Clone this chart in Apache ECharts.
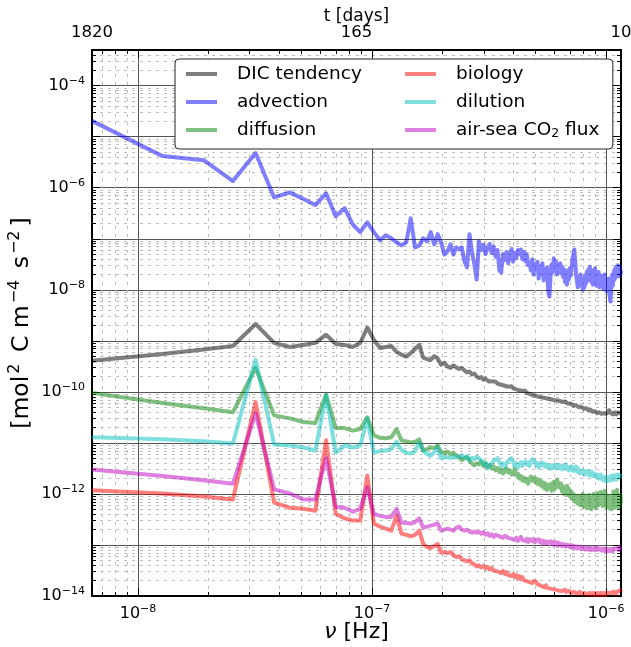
<!DOCTYPE html>
<html><head><meta charset="utf-8">
<script src="https://cdn.jsdelivr.net/npm/echarts@6/dist/echarts.min.js"></script>
<style>html,body{margin:0;padding:0;background:#fff}#c{width:631px;height:647px}</style>
</head><body><div id="c"></div>
<script>
// periodogram of a 1820-day record: harmonic k has frequency k / (1820 days)
const PERIOD_DAYS = 1820;
const SECONDS_PER_DAY = 86400;

const seriesNames = ['DIC tendency','advection','diffusion','biology','dilution','air-sea CO2 flux'];
const seriesColors = ['rgba(0,0,0,0.5)','rgba(0,0,255,0.5)','rgba(0,128,0,0.5)','rgba(255,0,0,0.5)','rgba(0,191,191,0.5)','rgba(191,0,191,0.5)'];

// log10 of spectral power, harmonics k = 1..182
const dicTendency = [
-9.39,-9.26,-9.17,-9.10,-8.67,-9.04,-9.12,-9.08,-9.04,-8.88,
-9.06,-9.08,-9.12,-9.04,-8.74,-8.98,-9.14,-9.12,-9.10,-9.22,
-9.27,-9.31,-9.24,-9.16,-9.08,-9.33,-9.36,-9.37,-9.30,-9.35,
-9.47,-9.43,-9.50,-9.53,-9.48,-9.52,-9.55,-9.53,-9.58,-9.62,
-9.60,-9.66,-9.64,-9.70,-9.73,-9.71,-9.76,-9.74,-9.78,-9.80,
-9.79,-9.82,-9.80,-9.84,-9.82,-9.86,-9.84,-9.88,-9.86,-9.90,
-9.92,-9.89,-9.93,-9.91,-9.95,-9.93,-9.97,-9.95,-9.98,-10.00,
-9.98,-10.02,-10.00,-10.04,-10.02,-10.06,-10.03,-10.07,-10.05,-10.09,
-10.07,-10.10,-10.08,-10.11,-10.09,-10.12,-10.10,-10.13,-10.11,-10.14,
-10.12,-10.15,-10.13,-10.16,-10.14,-10.17,-10.15,-10.17,-10.16,-10.18,
-10.17,-10.20,-10.18,-10.21,-10.19,-10.22,-10.20,-10.23,-10.21,-10.24,
-10.23,-10.26,-10.24,-10.27,-10.25,-10.28,-10.26,-10.29,-10.27,-10.30,
-10.28,-10.31,-10.29,-10.32,-10.30,-10.33,-10.31,-10.34,-10.32,-10.35,
-10.33,-10.36,-10.34,-10.37,-10.35,-10.38,-10.36,-10.39,-10.37,-10.40,
-10.38,-10.41,-10.39,-10.42,-10.40,-10.42,-10.40,-10.43,-10.41,-10.43,
-10.41,-10.44,-10.42,-10.44,-10.42,-10.45,-10.43,-10.45,-10.43,-10.44,
-10.40,-10.36,-10.34,-10.38,-10.42,-10.40,-10.43,-10.41,-10.44,-10.42,
-10.40,-10.43,-10.41,-10.44,-10.42,-10.40,-10.43,-10.41,-10.38,-10.42,
-10.40,-10.42];

const advection = [
-4.69,-5.38,-5.46,-5.87,-5.32,-6.19,-6.09,-6.22,-6.34,-6.11,
-6.56,-6.40,-6.72,-6.87,-6.68,-6.87,-7.03,-6.93,-6.99,-7.07,
-7.13,-7.07,-6.60,-7.17,-7.13,-6.99,-7.05,-6.87,-7.11,-6.91,
-7.07,-7.31,-7.25,-7.11,-7.31,-7.17,-7.21,-7.17,-7.44,-7.56,
-6.91,-7.25,-7.50,-7.80,-7.05,-7.22,-7.12,-7.30,-7.18,-7.10,
-7.28,-7.15,-7.35,-7.22,-7.62,-7.66,-7.30,-7.42,-7.26,-7.48,
-7.32,-7.20,-7.45,-7.28,-7.38,-7.22,-7.30,-7.21,-7.40,-7.26,
-7.44,-7.30,-7.52,-7.46,-7.62,-7.40,-7.70,-7.50,-7.58,-7.45,
-7.78,-7.55,-7.66,-7.48,-7.82,-7.60,-7.70,-7.56,-8.05,-8.13,
-7.75,-7.50,-7.66,-7.38,-7.60,-7.45,-7.70,-7.52,-7.62,-7.48,
-7.68,-7.55,-7.75,-7.60,-7.85,-7.70,-7.90,-7.62,-7.80,-7.58,
-7.72,-7.55,-7.40,-7.30,-7.21,-7.45,-7.70,-7.82,-7.95,-7.75,
-7.88,-7.70,-7.92,-7.78,-8.00,-7.80,-7.95,-7.72,-7.88,-7.65,
-7.82,-7.60,-7.78,-7.55,-7.70,-7.85,-7.62,-7.90,-7.68,-7.80,
-7.58,-7.75,-7.92,-7.70,-7.85,-7.65,-7.95,-7.78,-7.88,-7.72,
-7.90,-7.75,-7.98,-7.82,-7.70,-7.92,-7.80,-8.02,-7.85,-7.96,
-7.78,-8.05,-8.15,-8.23,-8.00,-7.85,-7.70,-7.92,-7.75,-7.62,
-7.80,-7.58,-7.72,-7.55,-7.68,-7.52,-7.74,-7.60,-7.66,-7.55,
-7.70,-7.62];

const diffusion = [
-10.02,-10.22,-10.32,-10.40,-9.53,-10.46,-10.52,-10.59,-10.61,-10.06,
-10.71,-10.71,-10.76,-10.73,-10.50,-10.85,-10.90,-10.91,-10.89,-10.73,
-10.95,-10.97,-10.99,-10.98,-10.93,-11.15,-11.12,-11.09,-11.10,-11.05,
-11.18,-11.20,-11.17,-11.22,-11.20,-11.24,-11.28,-11.34,-11.30,-11.28,
-11.35,-11.40,-11.44,-11.40,-11.42,-11.36,-11.45,-11.40,-11.47,-11.43,
-11.50,-11.46,-11.54,-11.49,-11.57,-11.52,-11.60,-11.55,-11.50,-11.58,
-11.54,-11.62,-11.57,-11.52,-11.64,-11.60,-11.70,-11.65,-11.74,-11.68,
-11.76,-11.70,-11.80,-11.72,-11.66,-11.74,-11.68,-11.76,-11.70,-11.80,
-11.72,-11.82,-11.75,-11.86,-11.78,-11.90,-11.80,-11.92,-11.84,-11.88,
-11.80,-11.94,-11.84,-11.76,-11.90,-11.82,-11.72,-11.86,-11.78,-11.88,
-11.80,-11.95,-11.85,-12.00,-11.88,-11.96,-11.84,-12.02,-11.90,-12.05,
-11.94,-12.08,-11.98,-12.12,-12.02,-12.15,-12.04,-12.18,-12.06,-12.20,
-12.05,-12.22,-12.08,-12.16,-12.00,-12.25,-12.10,-12.20,-12.04,-12.28,
-12.12,-12.22,-12.02,-12.26,-12.08,-12.30,-12.14,-12.24,-12.00,-12.20,
-12.06,-12.28,-12.10,-12.18,-11.98,-12.22,-12.04,-12.16,-11.96,-12.20,
-12.08,-12.24,-12.00,-12.18,-11.94,-12.14,-12.02,-12.26,-12.06,-12.20,
-12.10,-12.28,-12.04,-12.22,-12.12,-12.30,-12.08,-12.24,-11.95,-12.18,
-12.10,-12.26,-12.04,-12.20,-11.92,-12.16,-12.08,-12.28,-12.10,-12.22,
-12.02,-12.18];

const biology = [
-11.93,-11.99,-12.05,-12.11,-10.20,-12.17,-12.27,-12.29,-12.33,-10.95,
-12.39,-12.48,-12.52,-12.52,-11.64,-12.58,-12.64,-12.68,-12.72,-12.43,
-12.78,-12.80,-12.83,-12.80,-12.72,-12.98,-13.04,-13.06,-13.02,-12.98,
-13.15,-13.14,-13.16,-13.14,-13.20,-13.24,-13.22,-13.28,-13.30,-13.32,
-13.30,-13.36,-13.38,-13.42,-13.40,-13.44,-13.41,-13.46,-13.43,-13.48,
-13.45,-13.50,-13.47,-13.52,-13.49,-13.55,-13.51,-13.57,-13.53,-13.59,
-13.56,-13.61,-13.57,-13.63,-13.59,-13.65,-13.61,-13.67,-13.63,-13.69,
-13.66,-13.71,-13.68,-13.73,-13.70,-13.75,-13.71,-13.74,-13.72,-13.77,
-13.74,-13.79,-13.76,-13.81,-13.78,-13.83,-13.79,-13.84,-13.81,-13.85,
-13.82,-13.86,-13.83,-13.87,-13.84,-13.88,-13.85,-13.89,-13.86,-13.90,
-13.87,-13.90,-13.88,-13.91,-13.88,-13.92,-13.89,-13.92,-13.90,-13.93,
-13.90,-13.94,-13.91,-13.94,-13.92,-13.95,-13.92,-13.96,-13.93,-13.96,
-13.92,-13.95,-13.93,-13.96,-13.93,-13.97,-13.94,-13.97,-13.94,-13.97,
-13.94,-13.97,-13.94,-13.97,-13.95,-13.98,-13.94,-13.97,-13.95,-13.98,
-13.94,-13.97,-13.95,-13.98,-13.94,-13.97,-13.95,-13.98,-13.94,-13.97,
-13.95,-13.98,-13.94,-13.97,-13.95,-13.98,-13.94,-13.97,-13.95,-13.97,
-13.94,-13.97,-13.93,-13.96,-13.94,-13.96,-13.93,-13.95,-13.92,-13.95,
-13.94,-13.97,-13.93,-13.96,-13.92,-13.95,-13.91,-13.94,-13.90,-13.93,
-13.89,-13.92];

const dilution = [
-10.89,-10.93,-10.97,-11.01,-9.37,-11.03,-11.05,-11.09,-11.15,-10.06,
-11.19,-11.05,-11.09,-11.05,-10.52,-11.19,-11.16,-11.15,-11.12,-10.98,
-11.14,-11.19,-11.21,-11.16,-10.99,-11.15,-11.22,-11.25,-11.18,-11.09,
-11.30,-11.27,-11.28,-11.30,-11.26,-11.29,-11.27,-11.24,-11.30,-11.26,
-11.34,-11.29,-11.32,-11.27,-11.30,-11.34,-11.42,-11.38,-11.50,-11.44,
-11.40,-11.35,-11.32,-11.30,-11.38,-11.44,-11.40,-11.48,-11.40,-11.35,
-11.32,-11.30,-11.38,-11.46,-11.40,-11.48,-11.42,-11.38,-11.45,-11.40,
-11.36,-11.42,-11.38,-11.45,-11.36,-11.32,-11.30,-11.36,-11.44,-11.40,
-11.48,-11.42,-11.38,-11.44,-11.40,-11.46,-11.42,-11.48,-11.44,-11.50,
-11.46,-11.50,-11.44,-11.48,-11.42,-11.50,-11.45,-11.48,-11.43,-11.50,
-11.46,-11.52,-11.44,-11.50,-11.46,-11.42,-11.50,-11.48,-11.54,-11.47,
-11.52,-11.46,-11.50,-11.55,-11.48,-11.52,-11.46,-11.56,-11.50,-11.58,
-11.54,-11.60,-11.55,-11.52,-11.58,-11.54,-11.62,-11.56,-11.60,-11.55,
-11.58,-11.62,-11.56,-11.64,-11.58,-11.62,-11.57,-11.65,-11.60,-11.64,
-11.60,-11.66,-11.62,-11.68,-11.63,-11.70,-11.64,-11.68,-11.62,-11.70,
-11.66,-11.72,-11.67,-11.74,-11.68,-11.72,-11.66,-11.75,-11.70,-11.74,
-11.68,-11.72,-11.66,-11.74,-11.68,-11.64,-11.70,-11.66,-11.72,-11.67,
-11.63,-11.70,-11.66,-11.72,-11.64,-11.69,-11.62,-11.68,-11.65,-11.70,
-11.64,-11.68];

const airSeaFlux = [
-11.52,-11.65,-11.73,-11.80,-10.42,-11.91,-11.99,-12.11,-12.11,-11.30,
-12.25,-12.27,-12.35,-12.29,-11.87,-12.39,-12.43,-12.45,-12.45,-12.29,
-12.56,-12.57,-12.58,-12.55,-12.48,-12.66,-12.64,-12.62,-12.60,-12.58,
-12.72,-12.70,-12.68,-12.70,-12.72,-12.66,-12.64,-12.70,-12.72,-12.70,
-12.74,-12.76,-12.74,-12.76,-12.74,-12.78,-12.75,-12.80,-12.77,-12.82,
-12.79,-12.84,-12.80,-12.78,-12.83,-12.80,-12.86,-12.82,-12.79,-12.86,
-12.83,-12.88,-12.85,-12.90,-12.86,-12.92,-12.88,-12.84,-12.90,-12.87,
-12.92,-12.88,-12.94,-12.89,-12.86,-12.92,-12.88,-12.95,-12.90,-12.93,
-12.89,-12.95,-12.91,-12.96,-12.92,-12.97,-12.93,-12.98,-12.94,-12.97,
-12.93,-12.98,-12.94,-13.00,-12.95,-12.99,-12.95,-13.01,-12.96,-13.00,
-12.97,-13.02,-12.98,-13.01,-12.97,-13.03,-12.99,-13.02,-12.98,-13.04,
-13.00,-13.05,-13.01,-13.06,-13.02,-13.05,-13.01,-13.07,-13.03,-13.06,
-13.02,-13.07,-13.03,-13.08,-13.04,-13.07,-13.03,-13.09,-13.05,-13.08,
-13.04,-13.09,-13.05,-13.08,-13.04,-13.10,-13.06,-13.09,-13.05,-13.10,
-13.06,-13.10,-13.05,-13.09,-13.06,-13.11,-13.07,-13.10,-13.06,-13.11,
-13.07,-13.10,-13.06,-13.11,-13.07,-13.12,-13.08,-13.11,-13.07,-13.12,
-13.08,-13.11,-13.07,-13.12,-13.08,-13.11,-13.07,-13.12,-13.08,-13.10,
-13.06,-13.11,-13.07,-13.10,-13.05,-13.09,-13.06,-13.10,-13.04,-13.08,
-13.05,-13.07];

const seriesValues = [dicTendency, advection, diffusion, biology, dilution, airSeaFlux];

// axes (log10 units)
const X_MIN = Math.log10(1 / (PERIOD_DAYS * SECONDS_PER_DAY));
const X_MAX = Math.log10(1 / (10 * SECONDS_PER_DAY));
const Y_MIN = -14, Y_MAX = Math.log10(5e-4);
const xMajorTicks = [-8, -7, -6];
const yMajorTicks = [-14,-13,-12,-11,-10,-9,-8,-7,-6,-5,-4];
const yLabelTicks = [-14,-12,-10,-8,-6,-4];
const topTickLabels = ['1820', '165', '10'];
const topTickValues = [X_MIN, (X_MIN + X_MAX) / 2, X_MAX];

function minorTicks(lo, hi) {
  const out = [];
  for (let n = -16; n <= -2; n++) for (let m = 2; m <= 9; m++) {
    const v = n + Math.log10(m);
    if (v > lo && v < hi) out.push(v);
  }
  return out;
}
const xMinor = minorTicks(X_MIN, X_MAX);
const yMinor = minorTicks(Y_MIN, Y_MAX);

const FONT = 'DejaVu Sans';
const powRich = {
  b: {fontSize: 16, lineHeight: 20, fontFamily: FONT, color: '#000'},
  s: {fontSize: 11, lineHeight: 13, verticalAlign: 'top', fontFamily: FONT, color: '#000'}
};
const powFmt = v => '{b|10}{s|\u2212' + Math.round(-v) + '}';

const chart = echarts.init(document.getElementById('c'), null, {renderer: 'canvas'});
const grid = {left: 92, right: 10, top: 50, bottom: 51, outerBoundsMode: 'none', containLabel: false};
const minorGrid = {color: '#bdbdbd', width: 1, type: [3, 5]};

const option = {
  animation: false,
  backgroundColor: '#fff',
  grid: [Object.assign({}, grid), Object.assign({}, grid)],
  xAxis: [
    { gridIndex: 0, type: 'value', position: 'bottom', min: X_MIN, max: X_MAX,
      axisLine: {show: true, onZero: false, lineStyle: {color: '#000', width: 2}},
      axisTick: {show: true, inside: true, length: 8, customValues: xMajorTicks, lineStyle: {color: '#000', width: 1}},
      axisLabel: {show: true, customValues: xMajorTicks, formatter: powFmt, rich: powRich, margin: 8},
      splitLine: {show: true, lineStyle: {color: '#555', width: 1}},
      name: '{i|\u03bd} [Hz]', nameLocation: 'middle', nameGap: 22, nameMoveOverlap: false,
      nameTextStyle: {fontSize: 22, fontFamily: FONT, color: '#000', lineHeight: 28,
        rich: {i: {fontSize: 22, fontStyle: 'italic', fontFamily: FONT, color: '#000', lineHeight: 28}}}
    },
    { gridIndex: 0, type: 'value', position: 'top', min: X_MIN, max: X_MAX,
      axisLine: {show: true, onZero: false, lineStyle: {color: '#000', width: 2}},
      axisTick: {show: true, inside: true, length: 8, customValues: xMajorTicks, lineStyle: {color: '#000', width: 1}},
      axisLabel: {show: true, customValues: topTickValues, fontSize: 16.5, fontFamily: FONT, color: '#000', margin: 9,
        formatter: v => { let best = 0; topTickValues.forEach((t, i) => { if (Math.abs(t - v) < Math.abs(topTickValues[best] - v)) best = i; }); return topTickLabels[best]; }},
      splitLine: {show: false},
      name: 't [days]', nameLocation: 'middle', nameGap: 25, nameMoveOverlap: false,
      nameTextStyle: {fontSize: 17, fontFamily: FONT, color: '#000'}
    },
    { gridIndex: 1, type: 'value', position: 'bottom', min: X_MIN, max: X_MAX,
      axisLine: {show: false}, axisLabel: {show: false},
      axisTick: {show: true, inside: true, length: 4, customValues: xMinor, lineStyle: {color: '#000', width: 1}},
      splitLine: {show: true, lineStyle: minorGrid}
    },
    { gridIndex: 1, type: 'value', position: 'top', min: X_MIN, max: X_MAX,
      axisLine: {show: false}, axisLabel: {show: false},
      axisTick: {show: true, inside: true, length: 4, customValues: xMinor, lineStyle: {color: '#000', width: 1}},
      splitLine: {show: false}
    }
  ],
  yAxis: [
    { gridIndex: 0, type: 'value', position: 'left', min: Y_MIN, max: Y_MAX, interval: 1,
      axisLine: {show: true, onZero: false, lineStyle: {color: '#000', width: 2}},
      axisTick: {show: true, inside: true, length: 8, customValues: yMajorTicks, lineStyle: {color: '#000', width: 1}},
      axisLabel: {show: true, customValues: yLabelTicks, formatter: powFmt, rich: powRich, margin: 7},
      splitLine: {show: true, lineStyle: {color: '#555', width: 1}},
      name: '[mol{s|2} C m{s|\u22124} s{s|\u22122}]', nameLocation: 'middle', nameGap: 55, nameRotate: 90, nameMoveOverlap: false,
      nameTextStyle: {fontSize: 23.5, fontFamily: FONT, color: '#000', lineHeight: 30,
        rich: {s: {fontSize: 16, lineHeight: 18, verticalAlign: 'top', fontFamily: FONT, color: '#000', padding: [0, 4, 0, 2]}}}
    },
    { gridIndex: 0, type: 'value', position: 'right', min: Y_MIN, max: Y_MAX, interval: 1,
      axisLine: {show: true, onZero: false, lineStyle: {color: '#000', width: 2}},
      axisTick: {show: true, inside: true, length: 8, customValues: yMajorTicks, lineStyle: {color: '#000', width: 1}},
      axisLabel: {show: false}, splitLine: {show: false}
    },
    { gridIndex: 1, type: 'value', position: 'left', min: Y_MIN, max: Y_MAX,
      axisLine: {show: false}, axisLabel: {show: false},
      axisTick: {show: true, inside: true, length: 4, customValues: yMinor, lineStyle: {color: '#000', width: 1}},
      splitLine: {show: true, lineStyle: minorGrid}
    },
    { gridIndex: 1, type: 'value', position: 'right', min: Y_MIN, max: Y_MAX,
      axisLine: {show: false}, axisLabel: {show: false},
      axisTick: {show: true, inside: true, length: 4, customValues: yMinor, lineStyle: {color: '#000', width: 1}},
      splitLine: {show: false}
    }
  ],
  legend: [
    { data: seriesNames.slice(0, 3), orient: 'vertical', left: 175, top: 59,
      padding: [5, 251, 9, 11], itemGap: 8, itemWidth: 31, itemHeight: 4, icon: 'rect',
      backgroundColor: '#fff', borderColor: '#222', borderWidth: 1, borderRadius: 4,
      selectedMode: false, z: 10,
      textStyle: {fontSize: 18.5, fontFamily: FONT, color: '#000', lineHeight: 20, padding: [0, 0, 0, 15]}
    },
    { data: seriesNames.slice(3), orient: 'vertical', left: 405, top: 64,
      padding: 0, itemGap: 8, itemWidth: 31, itemHeight: 4, icon: 'rect',
      selectedMode: false, z: 11,
      formatter: n => n === 'air-sea CO2 flux' ? 'air-sea CO{sub|2} flux' : n,
      textStyle: {fontSize: 18.5, fontFamily: FONT, color: '#000', lineHeight: 20, padding: [0, 0, 0, 15],
        rich: {sub: {fontSize: 12.5, lineHeight: 14, verticalAlign: 'bottom', fontFamily: FONT, color: '#000'}}}
    }
  ],
  series: seriesNames.map((name, si) => ({
    name, type: 'line', xAxisIndex: 0, yAxisIndex: 0,
    symbol: 'none', showSymbol: false, silent: true, z: 3,
    emphasis: {disabled: true},
    itemStyle: {color: seriesColors[si]},
    lineStyle: {color: seriesColors[si], width: 4, join: 'round', cap: 'butt'},
    data: seriesValues[si].map((v, i) => [Math.log10((i + 1) / (PERIOD_DAYS * SECONDS_PER_DAY)), v])
  }))
};
chart.setOption(option);
</script></body></html>
